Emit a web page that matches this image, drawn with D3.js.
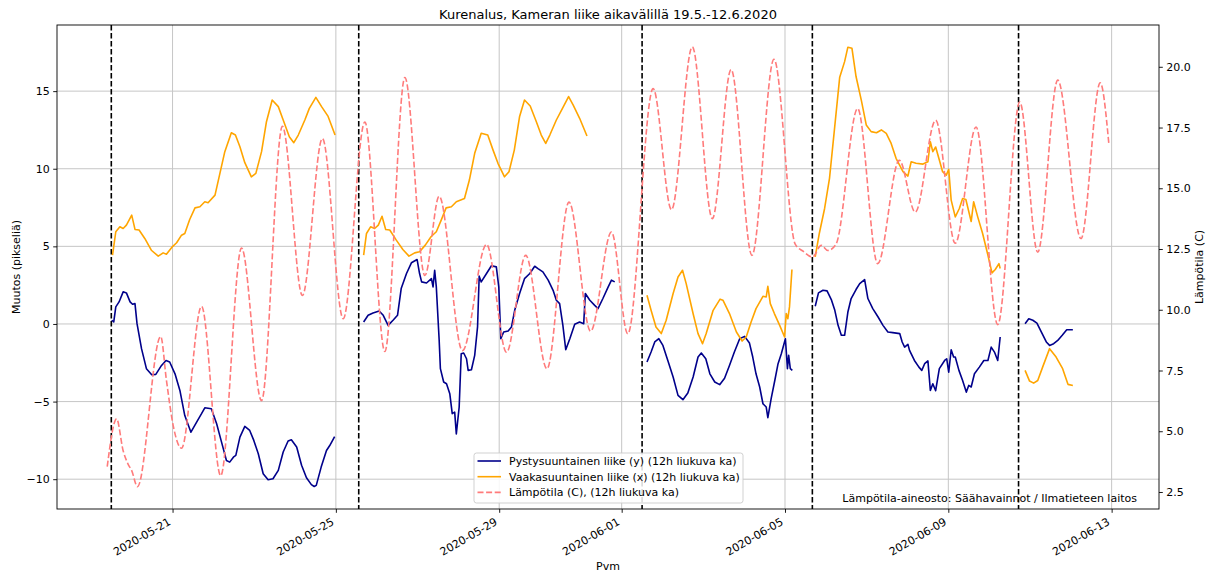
<!DOCTYPE html>
<html>
<head>
<meta charset="utf-8">
<script src="https://cdn.jsdelivr.net/npm/d3@7"></script>
<style>
  body { margin: 0; background: #fff; }
  svg { display: block; }
  text { font-family: "DejaVu Sans", sans-serif; fill: #000; }
</style>
</head>
<body>
<svg id="chart" width="1210" height="574"></svg>
<script>
// Time values are day offsets from this reference date (2020-05-21 00:00).
const baseDate = new Date(2020, 4, 21);

const xTickLabels = ["2020-05-21", "2020-05-25", "2020-05-29", "2020-06-01", "2020-06-05", "2020-06-09", "2020-06-13"];
const leftTicks = [-10, -5, 0, 5, 10, 15];
const rightTicks = [2.5, 5, 7.5, 10, 12.5, 15, 17.5, 20];

// Camera re-positioning moments (black dashed markers)
const breakDays = [-1.5, 4.56, 11.5, 15.67, 20.72];

// Vertical movement, 12h moving average, one array per measurement period: [day, pixels]
const pystySeg1 = [[-1.49,0.24],[-1.44,0.13],[-1.39,1.10],[-1.31,1.42],[-1.21,2.07],[-1.13,2.0],[-1.04,1.42],[-0.98,1.27],[-0.92,1.31],[-0.87,0.02],[-0.76,-1.59],[-0.64,-2.88],[-0.51,-3.27],[-0.41,-3.25],[-0.27,-2.67],[-0.16,-2.35],[-0.07,-2.45],[0.06,-3.21],[0.18,-4.28],[0.30,-5.9],[0.45,-6.97],[0.59,-6.32],[0.71,-5.78],[0.79,-5.4],[0.95,-5.46],[1.08,-6.43],[1.20,-7.61],[1.32,-8.8],[1.40,-8.9],[1.49,-8.58],[1.55,-8.47],[1.65,-7.29],[1.77,-6.6],[1.89,-6.86],[1.99,-7.5],[2.10,-8.36],[2.22,-9.65],[2.34,-10.04],[2.46,-9.97],[2.59,-9.43],[2.71,-8.25],[2.83,-7.54],[2.91,-7.46],[3.04,-7.93],[3.16,-9.1],[3.28,-9.91],[3.40,-10.35],[3.47,-10.47],[3.52,-10.4],[3.64,-9.22],[3.77,-8.15],[3.85,-7.83],[3.97,-7.25]];
const pystySeg2 = [[4.68,0.13],[4.79,0.56],[4.91,0.71],[5.06,0.84],[5.16,0.56],[5.28,-0.09],[5.40,0.24],[5.51,0.56],[5.60,2.28],[5.73,3.25],[5.85,3.94],[5.99,4.15],[6.05,3.25],[6.10,2.71],[6.22,2.64],[6.34,2.92],[6.38,2.39],[6.42,3.46],[6.46,2.39],[6.53,-1.05],[6.56,-2.88],[6.64,-3.74],[6.71,-3.85],[6.79,-4.49],[6.85,-5.78],[6.91,-5.68],[6.95,-7.08],[7.02,-5.35],[7.07,-1.92],[7.13,-1.87],[7.20,-2.24],[7.24,-2.99],[7.32,-2.95],[7.40,-2.02],[7.47,-0.19],[7.51,3.08],[7.56,2.71],[7.69,3.25],[7.81,3.75],[7.93,3.68],[7.99,2.39],[8.04,-0.95],[8.11,-0.52],[8.22,-0.45],[8.30,-0.2],[8.38,0.88],[8.50,1.96],[8.62,2.92],[8.75,3.25],[8.87,3.72],[8.95,3.57],[9.07,3.36],[9.20,2.82],[9.32,2.17],[9.40,1.53],[9.48,1.31],[9.56,-0.09],[9.63,-1.66],[9.73,-0.95],[9.85,-0.02],[9.97,0.13],[10.07,0.02],[10.11,1.96],[10.22,1.53],[10.34,1.2],[10.42,0.99],[10.54,1.64],[10.67,2.39],[10.75,2.82],[10.83,2.71]];
const pystySeg3 = [[11.62,-2.45],[11.72,-1.81],[11.81,-1.16],[11.91,-0.95],[12.01,-1.38],[12.13,-2.35],[12.26,-3.42],[12.38,-4.6],[12.50,-4.88],[12.62,-4.45],[12.75,-3.42],[12.87,-2.13],[12.95,-1.87],[13.06,-2.24],[13.16,-3.21],[13.28,-3.74],[13.40,-3.91],[13.52,-3.5],[13.64,-2.67],[13.76,-1.81],[13.89,-0.95],[14.01,-0.8],[14.13,-1.23],[14.21,-2.13],[14.29,-3.21],[14.38,-4.06],[14.46,-5.14],[14.54,-5.35],[14.58,-6.04],[14.66,-4.82],[14.75,-3.64],[14.83,-2.56],[14.91,-1.92],[15.01,-0.95],[15.06,-2.88],[15.09,-2.02],[15.13,-2.88],[15.18,-2.99]];
const pystySeg4 = [[15.74,1.14],[15.82,2.0],[15.93,2.17],[16.03,2.13],[16.14,1.53],[16.22,0.88],[16.30,-0.09],[16.38,-0.73],[16.46,-0.73],[16.54,0.77],[16.62,1.64],[16.74,2.22],[16.83,2.6],[16.95,2.86],[17.03,1.64],[17.15,0.99],[17.28,0.45],[17.40,-0.09],[17.52,-0.52],[17.64,-0.56],[17.81,-0.62],[17.87,-1.16],[17.93,-1.49],[18.01,-1.31],[18.05,-1.7],[18.17,-2.35],[18.28,-2.78],[18.35,-2.99],[18.42,-2.56],[18.50,-2.38],[18.56,-4.28],[18.62,-3.85],[18.69,-4.3],[18.78,-2.88],[18.91,-2.35],[18.96,-2.24],[19.01,-3.1],[19.07,-1.66],[19.13,-2.13],[19.17,-2.13],[19.26,-2.99],[19.35,-3.64],[19.44,-4.39],[19.50,-3.96],[19.56,-4.06],[19.64,-3.21],[19.76,-2.78],[19.87,-2.35],[19.97,-2.35],[20.05,-1.49],[20.13,-1.81],[20.21,-2.35],[20.27,-0.84]];
const pystySeg5 = [[20.88,0.02],[20.97,0.34],[21.07,0.24],[21.17,0.06],[21.28,-0.52],[21.40,-1.16],[21.48,-1.38],[21.58,-1.27],[21.68,-1.06],[21.79,-0.73],[21.90,-0.37],[22.05,-0.37]];

// Horizontal movement, 12h moving average: [day, pixels]
const vaakaSeg1 = [[-1.47,4.43],[-1.39,5.94],[-1.29,6.26],[-1.21,6.15],[-1.13,6.37],[-1.00,7.01],[-0.92,6.09],[-0.82,6.05],[-0.68,5.51],[-0.52,4.75],[-0.35,4.37],[-0.23,4.58],[-0.15,4.49],[-0.02,4.93],[0.10,5.23],[0.22,5.72],[0.30,5.83],[0.42,6.73],[0.55,7.48],[0.67,7.55],[0.79,7.87],[0.87,7.81],[1.04,8.30],[1.16,9.70],[1.28,11.10],[1.44,12.32],[1.54,12.17],[1.65,11.42],[1.77,10.39],[1.93,9.48],[2.04,9.70],[2.18,11.10],[2.30,13.03],[2.44,14.43],[2.59,14.0],[2.71,13.14],[2.86,12.06],[2.97,11.68],[3.08,12.17],[3.24,13.14],[3.35,13.89],[3.51,14.6],[3.65,14.0],[3.81,13.37],[3.98,12.17]];
const vaakaSeg2 = [[4.68,4.43],[4.75,5.83],[4.85,6.26],[4.95,6.15],[5.04,6.37],[5.13,6.94],[5.22,6.09],[5.32,6.05],[5.48,5.40],[5.64,4.80],[5.79,4.37],[5.93,4.58],[6.05,4.65],[6.19,5.08],[6.33,5.62],[6.46,5.94],[6.58,6.69],[6.70,7.48],[6.83,7.55],[6.95,7.87],[7.15,8.08],[7.27,9.27],[7.40,10.99],[7.56,12.28],[7.72,12.17],[7.85,11.2],[7.97,10.35],[8.13,9.48],[8.24,9.81],[8.37,11.2],[8.50,13.37],[8.62,14.43],[8.76,14.04],[8.91,13.03],[9.03,12.17],[9.14,11.63],[9.24,12.17],[9.40,13.14],[9.55,13.89],[9.70,14.65],[9.81,14.11],[9.97,13.25],[10.15,12.11]];
const vaakaSeg3 = [[11.62,1.85],[11.72,0.88],[11.84,-0.19],[11.97,-0.62],[12.09,0.24],[12.26,1.96],[12.38,3.03],[12.49,3.46],[12.58,2.60],[12.75,0.66],[12.87,-0.62],[12.98,-1.27],[13.07,-0.62],[13.24,0.88],[13.41,1.6],[13.48,1.53],[13.64,0.67],[13.81,-0.52],[13.95,-1.10],[14.05,-0.84],[14.17,0.13],[14.29,0.99],[14.46,1.78],[14.54,1.74],[14.58,2.43],[14.64,1.31],[14.74,0.67],[14.87,-0.09],[14.99,-0.84],[15.03,0.67],[15.07,0.34],[15.11,1.10],[15.17,3.51]];
const vaakaSeg4 = [[15.74,4.32],[15.84,5.83],[15.97,7.44],[16.09,9.38],[16.21,12.5],[16.34,15.9],[16.46,16.9],[16.54,17.83],[16.64,17.76],[16.74,15.94],[16.87,14.4],[16.99,12.82],[17.11,12.39],[17.24,12.32],[17.36,12.5],[17.48,12.28],[17.60,11.63],[17.72,10.67],[17.89,9.81],[18.01,9.53],[18.09,10.45],[18.21,10.35],[18.38,10.3],[18.50,10.45],[18.56,11.74],[18.62,11.1],[18.69,11.4],[18.78,10.56],[18.86,9.81],[18.95,9.59],[19.01,9.96],[19.07,7.98],[19.17,6.9],[19.27,7.44],[19.35,8.08],[19.43,8.02],[19.56,6.6],[19.62,7.87],[19.72,6.9],[19.84,5.83],[19.96,4.54],[20.07,3.29],[20.15,3.51],[20.24,3.89],[20.27,3.57]];
const vaakaSeg5 = [[20.88,-2.99],[20.99,-3.68],[21.09,-3.81],[21.19,-3.64],[21.31,-2.78],[21.48,-1.59],[21.64,-2.13],[21.80,-2.88],[21.93,-3.89],[22.05,-3.96]];

// Air temperature, 12h moving average: [day, °C]
const lampotila = [[-1.60,3.54],[-1.37,5.51],[-1.21,4.2],[-1.09,3.65],[-1.00,3.38],[-0.86,2.72],[-0.29,8.9],[-0.15,7.1],[0.02,5.2],[0.22,4.30],[0.71,10.14],[1.18,3.17],[1.69,12.54],[2.18,6.26],[2.69,17.55],[3.18,10.59],[3.67,17.05],[4.18,9.63],[4.71,17.73],[5.20,8.28],[5.69,19.56],[6.18,11.41],[6.53,14.67],[7.10,8.32],[7.69,12.69],[8.18,8.25],[8.65,12.24],[9.17,7.57],[9.71,14.43],[10.24,9.12],[10.75,13.2],[11.15,9.01],[11.77,19.1],[12.22,14.12],[12.73,20.82],[13.22,13.75],[13.68,19.89],[14.19,12.24],[14.73,20.31],[15.25,12.7],[15.45,12.4],[15.67,12.17],[15.89,12.65],[16.05,12.44],[16.25,12.7],[16.78,18.28],[17.27,11.9],[17.80,16.15],[18.19,14.02],[18.69,17.8],[19.17,12.74],[19.68,17.52],[20.21,9.39],[20.75,18.55],[21.19,12.37],[21.68,19.45],[22.25,12.93],[22.72,19.34],[22.93,16.86]];

const pystySegments = [pystySeg1, pystySeg2, pystySeg3, pystySeg4, pystySeg5];
const vaakaSegments = [vaakaSeg1, vaakaSeg2, vaakaSeg3, vaakaSeg4, vaakaSeg5];

const legendLabels = [
  "Pystysuuntainen liike (y) (12h liukuva ka)",
  "Vaakasuuntainen liike (x) (12h liukuva ka)",
  "Lämpötila (C), (12h liukuva ka)"
];

// ---- layout & scales ----
const plot = { left: 57, top: 25, right: 1159, bottom: 509 };
const FS = 11;
const colY = "#00008b", colX = "#ffa500", colT = "#ff7b7b";
const lw = 1.6, dashT = "6,2.6", dashK = "5.6,2.4";

const toDate = d => new Date(baseDate.getTime() + d * 864e5);
const parseDay = d3.timeParse("%Y-%m-%d");

const x = d3.scaleTime().domain([toDate(-2.83), toDate(24.16)]).range([plot.left, plot.right]);
const yL = d3.scaleLinear().domain([-11.92, 19.26]).range([plot.bottom, plot.top]);
const yR = d3.scaleLinear().domain([1.8, 21.72]).range([plot.bottom, plot.top]);

const svg = d3.select("#chart");
svg.append("rect").attr("width", 1210).attr("height", 574).attr("fill", "#fff");

// grid
const grid = svg.append("g");
const tickDates = xTickLabels.map(parseDay);
grid.selectAll("line.v").data(tickDates).join("line")
  .attr("x1", d => x(d)).attr("x2", d => x(d))
  .attr("y1", plot.top).attr("y2", plot.bottom)
  .attr("stroke", "#c6c6c6").attr("stroke-width", 1);
grid.selectAll("line.h").data(leftTicks).join("line")
  .attr("x1", plot.left).attr("x2", plot.right)
  .attr("y1", d => yL(d)).attr("y2", d => yL(d))
  .attr("stroke", "#c6c6c6").attr("stroke-width", 1);

// break markers
svg.append("g").selectAll("line").data(breakDays).join("line")
  .attr("x1", d => x(toDate(d))).attr("x2", d => x(toDate(d)))
  .attr("y1", plot.top).attr("y2", plot.bottom)
  .attr("stroke", "#000").attr("stroke-width", lw).attr("stroke-dasharray", dashK);

// movement lines
const lineL = d3.line().x(p => x(toDate(p[0]))).y(p => yL(p[1]));
svg.append("g").selectAll("path").data(pystySegments).join("path")
  .attr("d", lineL).attr("fill", "none").attr("stroke", colY)
  .attr("stroke-width", lw).attr("stroke-linejoin", "round");
svg.append("g").selectAll("path").data(vaakaSegments).join("path")
  .attr("d", lineL).attr("fill", "none").attr("stroke", colX)
  .attr("stroke-width", lw).attr("stroke-linejoin", "round");

// temperature on the secondary axis
const lineR = d3.line().x(p => x(toDate(p[0]))).y(p => yR(p[1])).curve(d3.curveMonotoneX);
svg.append("path").datum(lampotila).attr("d", lineR)
  .attr("fill", "none").attr("stroke", colT).attr("stroke-width", lw)
  .attr("stroke-dasharray", dashT);

// axes
const styleAxis = g => {
  g.select(".domain").remove();
  g.selectAll(".tick line").attr("stroke", "#000").attr("stroke-width", 0.9);
  g.selectAll(".tick text").attr("font-size", FS).attr("fill", "#000")
    .attr("font-family", "DejaVu Sans, sans-serif");
};
const fmtL = d => (d < 0 ? "\u2212" + Math.abs(d) : String(d));
svg.append("g").attr("transform", `translate(${plot.left},0)`)
  .call(d3.axisLeft(yL).tickValues(leftTicks).tickFormat(fmtL).tickSize(3.8).tickPadding(3.5))
  .call(styleAxis);
svg.append("g").attr("transform", `translate(${plot.right},0)`)
  .call(d3.axisRight(yR).tickValues(rightTicks).tickFormat(d3.format(".1f")).tickSize(3.8).tickPadding(3.5))
  .call(styleAxis);
const xAxis = svg.append("g").attr("transform", `translate(0,${plot.bottom})`)
  .call(d3.axisBottom(x).tickValues(tickDates).tickFormat(d3.timeFormat("%Y-%m-%d")).tickSize(3.8))
  .call(styleAxis);
xAxis.selectAll(".tick text")
  .attr("y", 0).attr("dy", 0).attr("text-anchor", "end")
  .attr("transform", "translate(-1.5,15) rotate(-30)");

// frame
svg.append("rect").attr("x", plot.left).attr("y", plot.top)
  .attr("width", plot.right - plot.left).attr("height", plot.bottom - plot.top)
  .attr("fill", "none").attr("stroke", "#000").attr("stroke-width", 0.9);

// labels
svg.append("text").attr("x", (plot.left + plot.right) / 2).attr("y", 18.5)
  .attr("text-anchor", "middle").attr("font-size", 13)
  .text("Kurenalus, Kameran liike aikavälillä 19.5.-12.6.2020");
svg.append("text").attr("x", (plot.left + plot.right) / 2).attr("y", 570)
  .attr("text-anchor", "middle").attr("font-size", FS).text("Pvm");
svg.append("text").attr("transform", `translate(20,${(plot.top + plot.bottom) / 2}) rotate(-90)`)
  .attr("text-anchor", "middle").attr("font-size", FS).text("Muutos (pikseliä)");
svg.append("text").attr("transform", `translate(1203,${(plot.top + plot.bottom) / 2}) rotate(-90)`)
  .attr("text-anchor", "middle").attr("font-size", FS).text("Lämpötila (C)");
svg.append("text").attr("x", 1137).attr("y", 501.5)
  .attr("text-anchor", "end").attr("font-size", FS)
  .text("Lämpötila-aineosto: Säähavainnot / Ilmatieteen laitos");

// legend
const leg = svg.append("g").attr("transform", "translate(474,453)");
leg.append("rect").attr("width", 269).attr("height", 50).attr("rx", 2.5)
  .attr("fill", "#fff").attr("fill-opacity", 0.85)
  .attr("stroke", "#cccccc").attr("stroke-width", 0.9);
const legStyles = [
  { c: colY, dash: null },
  { c: colX, dash: null },
  { c: colT, dash: dashT }
];
legendLabels.forEach((lab, i) => {
  const cy = 8 + i * 15.7;
  leg.append("line").attr("x1", 3.5).attr("x2", 27).attr("y1", cy).attr("y2", cy)
    .attr("stroke", legStyles[i].c).attr("stroke-width", lw)
    .attr("stroke-dasharray", legStyles[i].dash);
  leg.append("text").attr("x", 35).attr("y", cy + 4).attr("font-size", FS).text(lab);
});
</script>
</body>
</html>
